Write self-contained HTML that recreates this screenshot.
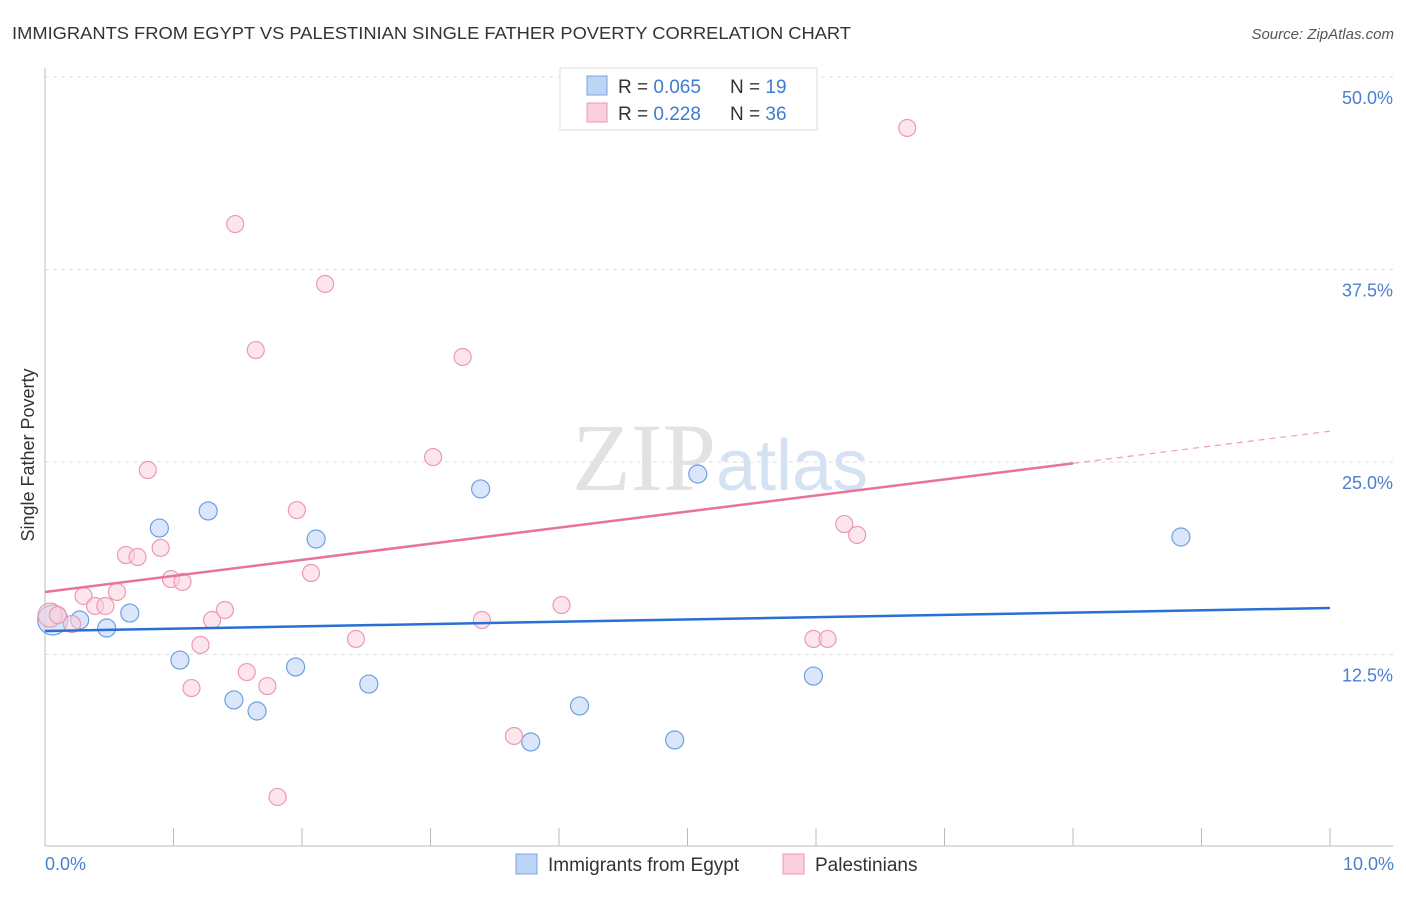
<!DOCTYPE html>
<html><head><meta charset="utf-8"><style>
body{margin:0;background:#fff;font-family:"Liberation Sans",sans-serif;}
</style></head><body>
<svg width="1406" height="892" xmlns="http://www.w3.org/2000/svg" style="font-family:'Liberation Sans',sans-serif">
<text x="12" y="39" font-size="17.5" fill="#333" textLength="839" lengthAdjust="spacingAndGlyphs">IMMIGRANTS FROM EGYPT VS PALESTINIAN SINGLE FATHER POVERTY CORRELATION CHART</text>
<text x="1394" y="39" font-size="15" fill="#555" font-style="italic" text-anchor="end">Source: ZipAtlas.com</text>
<g id="grid"></g>
<text x="716" y="490" font-size="96" fill="#e2e2e2" text-anchor="end" font-family="Liberation Serif,serif">ZIP</text>
<text x="716" y="490" font-size="72" fill="#d5e2f3">atlas</text>
<g id="pts"></g>
<g id="lines"></g>
<text x="34" y="455" font-size="18" fill="#333" text-anchor="middle" transform="rotate(-90 34 455)">Single Father Poverty</text>
<text x="45" y="870" font-size="18" fill="#4a7fd0">0.0%</text>
<text x="1394" y="870" font-size="18" fill="#4a7fd0" text-anchor="end">10.0%</text>
<g>
<rect x="560" y="68" width="257" height="62" fill="#fff" stroke="#ddd"/>
<rect x="587" y="76" width="20" height="19" fill="#bcd4f5" stroke="#7aa6e3"/>
<rect x="587" y="103" width="20" height="19" fill="#fbcfdc" stroke="#ec9ab4"/>
<text x="618" y="93" font-size="19" fill="#333">R = <tspan fill="#3f7bd4">0.065</tspan></text>
<text x="730" y="93" font-size="19" fill="#333">N = <tspan fill="#3f7bd4"> 19</tspan></text>
<text x="618" y="120" font-size="19" fill="#333">R = <tspan fill="#3f7bd4"> 0.228</tspan></text>
<text x="730" y="120" font-size="19" fill="#333">N = <tspan fill="#3f7bd4">36</tspan></text>
</g>
<g>
<rect x="516" y="854" width="21" height="20" fill="#bcd4f5" stroke="#7aa6e3"/>
<text x="548" y="871" font-size="19" fill="#333">Immigrants from Egypt</text>
<rect x="783" y="854" width="21" height="20" fill="#fbcfdc" stroke="#ec9ab4"/>
<text x="815" y="871" font-size="19" fill="#333">Palestinians</text>
</g>
</svg>
<script>
const yTicks=[12.5,25,37.5,50];
const yTickLabels=["12.5%","25.0%","37.5%","50.0%"];
const xTicks=[1,2,3,4,5,6,7,8,9,10];
const egyptX=[0.06,0.27,0.48,0.66,0.89,1.05,1.27,1.47,1.65,1.95,2.11,2.52,3.39,3.78,4.16,4.90,5.08,5.98,8.84];
const egyptY=[14.74,14.74,14.22,15.19,20.71,12.14,21.82,9.55,8.83,11.69,20.0,10.58,23.25,6.82,9.16,6.95,24.22,11.10,20.13];
const palX=[0.04,0.10,0.21,0.30,0.39,0.47,0.56,0.63,0.72,0.80,0.90,0.98,1.07,1.14,1.21,1.30,1.40,1.48,1.57,1.64,1.73,1.81,1.96,2.07,2.18,2.42,3.02,3.25,3.40,3.65,4.02,5.98,6.09,6.22,6.32,6.71];
const palY=[15.06,15.06,14.48,16.30,15.65,15.65,16.56,18.96,18.83,24.48,19.42,17.40,17.21,10.32,13.12,14.74,15.39,40.45,11.36,32.27,10.45,3.25,21.88,17.79,36.56,13.51,25.32,31.82,14.74,7.21,15.71,13.51,13.51,20.97,20.26,46.69];
const egyptTrend=[14.03,15.52];
const palTrend=[16.56,27.0];
const NS="http://www.w3.org/2000/svg";
const sx=v=>45+v*128.5, sy=v=>847-v*15.4;
function mk(t,a,p){const e=document.createElementNS(NS,t);for(const k in a)e.setAttribute(k,a[k]);p.appendChild(e);return e;}
const grid=document.getElementById('grid');
const ax=mk('line',{x1:45,y1:68,x2:45,y2:846,stroke:'#bbb'},grid);


const bx=mk('line',{x1:45,y1:846,x2:1393,y2:846,stroke:'#bbb'},grid);


yTicks.forEach((t,i)=>{
 const g=mk('line',{x1:45,y1:sy(t),x2:1393,y2:sy(t),stroke:'#ddd','stroke-dasharray':'4,4'},grid);
 
 
 const l=mk('text',{x:1393,y:sy(t)+27,'font-size':18,fill:'#4a7fd0','text-anchor':'end'},grid);
 l.textContent=yTickLabels[i];
 
 
});
xTicks.forEach(t=>{
 const k=mk('line',{x1:sx(t),y1:828,x2:sx(t),y2:846,stroke:'#bbb'},grid);
 
 
});
const pts=document.getElementById('pts');
function dot(x,y,r,f,s,n){const c=mk('circle',{cx:sx(x),cy:sy(y),r:r,fill:f,'fill-opacity':0.55,stroke:s,'stroke-width':1.2},pts);
 
 }
egyptX.forEach((x,i)=>dot(x,egyptY[i],i==0?15:9,'#bcd4f5','#6f9fe0','egypt-point'));
palX.forEach((x,i)=>dot(x,palY[i],i==0?12:8.5,'#fbcfdc','#eb9ab3','palestinian-point'));
const L=document.getElementById('lines');
const e1=mk('line',{x1:sx(0),y1:sy(egyptTrend[0]),x2:sx(10),y2:sy(egyptTrend[1]),stroke:'#2a6fd6','stroke-width':2.5},L);


const pm=palTrend[0]+(palTrend[1]-palTrend[0])*0.8;
const p1=mk('line',{x1:sx(0),y1:sy(palTrend[0]),x2:sx(8),y2:sy(pm),stroke:'#e8739b','stroke-width':2.5},L);


const p2=mk('line',{x1:sx(8),y1:sy(pm),x2:sx(10),y2:sy(palTrend[1]),stroke:'#e8a0b8','stroke-width':1.2,'stroke-dasharray':'6,5'},L);


</script>
</body></html>
